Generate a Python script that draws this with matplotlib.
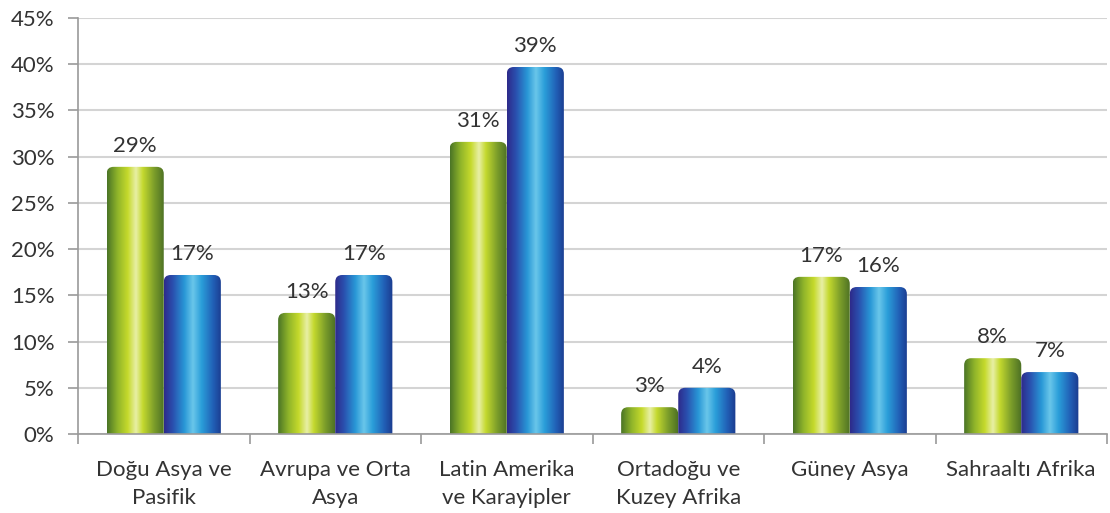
import matplotlib
matplotlib.use("Agg")
import matplotlib.pyplot as plt
import numpy as np
from matplotlib.colors import LinearSegmentedColormap
from matplotlib.patches import FancyBboxPatch
from matplotlib.ticker import FixedLocator, FuncFormatter

categories = ["Doğu Asya ve\nPasifik", "Avrupa ve Orta\nAsya", "Latin Amerika\nve Karayipler",
              "Ortadoğu ve\nKuzey Afrika", "Güney Asya", "Sahraaltı Afrika"]
series_green = [28.9, 13.1, 31.6, 2.9, 17.0, 8.2]
series_blue = [17.2, 17.2, 39.7, 5.0, 15.9, 6.7]
labels_green = ["29%", "13%", "31%", "3%", "17%", "8%"]
labels_blue = ["17%", "17%", "39%", "4%", "16%", "7%"]
yticks = [0, 5, 10, 15, 20, 25, 30, 35, 40, 45]

plt.rcParams['font.family'] = ['Lato', 'DejaVu Sans']

W, H = 1110, 513
fig = plt.figure(figsize=(W / 100, H / 100), dpi=100)
left, right, bottom, top = 78, 1107, 434, 18
ax = fig.add_axes([left / W, 1 - bottom / H, (right - left) / W, (bottom - top) / H])

ax.set_xlim(-0.5, len(categories) - 0.5)
ax.set_ylim(0, 45)

green_cmap = LinearSegmentedColormap.from_list("g", [
    (0.0, "#4a7426"), (0.18, "#8fb42a"), (0.36, "#c6da2c"), (0.5, "#e8efa6"),
    (0.62, "#c4d92e"), (0.82, "#7a9c2a"), (1.0, "#4a6e24")])
blue_cmap = LinearSegmentedColormap.from_list("b", [
    (0.0, "#2e2a8a"), (0.15, "#2a4fae"), (0.35, "#2897d6"), (0.5, "#6ac6ea"),
    (0.65, "#2a9ed9"), (0.85, "#2160b6"), (1.0, "#1b3a8e")])

x = np.arange(len(categories))
bw = 0.333
bars_g = ax.bar(x - bw / 2, series_green, bw, color="none", edgecolor="none")
bars_b = ax.bar(x + bw / 2, series_blue, bw, color="none", edgecolor="none")

px_per_x = (right - left) / len(categories)
px_per_y = (bottom - top) / 45.0
rad_px = 7
aspect = px_per_x / px_per_y
grad = np.linspace(0, 1, 256).reshape(1, -1)

def draw_bars(bars, cmap):
    for b in bars:
        x0, w, h = b.get_x(), b.get_width(), b.get_height()
        pad = rad_px / px_per_x
        patch = FancyBboxPatch((x0, -2), w, h + 2,
                               boxstyle=f"round,pad=0,rounding_size={pad}",
                               mutation_aspect=aspect,
                               facecolor="none", edgecolor="none",
                               transform=ax.transData)
        ax.add_patch(patch)
        im = ax.imshow(grad, cmap=cmap, aspect="auto",
                       extent=(x0, x0 + w, 0, h), zorder=2, interpolation="bilinear")
        im.set_clip_path(patch)

draw_bars(bars_g, green_cmap)
draw_bars(bars_b, blue_cmap)
ax.set_xlim(-0.5, len(categories) - 0.5)
ax.set_ylim(0, 45)
ax.set_aspect("auto")

txt_color = "#333333"
fs = 16
for b, lab in zip(bars_g, labels_green):
    ax.annotate(lab, (b.get_x() + b.get_width() / 2, b.get_height()), xytext=(0, 8),
                textcoords="offset points", ha="center", va="bottom", fontsize=fs, color=txt_color)
for b, lab in zip(bars_b, labels_blue):
    ax.annotate(lab, (b.get_x() + b.get_width() / 2, b.get_height()), xytext=(0, 8),
                textcoords="offset points", ha="center", va="bottom", fontsize=fs, color=txt_color)

ax.set_yticks(yticks)
ax.yaxis.set_major_formatter(FuncFormatter(lambda v, p: f"{int(v)}%"))
ax.grid(axis="y", color="#d4d4d4", linewidth=1.5, zorder=0)
ax.set_axisbelow(True)

ax.set_xticks(x)
ax.set_xticklabels(categories, fontsize=fs, color=txt_color, linespacing=1.5)
ax.xaxis.set_minor_locator(FixedLocator(np.arange(-0.5, len(categories) + 0.5, 1)))
ax.tick_params(axis="x", which="major", length=0, pad=19)
ax.tick_params(axis="x", which="minor", length=7, color="#9a9a9a", width=1.2)
ax.tick_params(axis="y", length=7, color="#9a9a9a", width=1.2, labelsize=fs, labelcolor=txt_color, pad=10)

for s in ["top", "right"]:
    ax.spines[s].set_visible(False)
for s in ["left", "bottom"]:
    ax.spines[s].set_color("#9a9a9a")
    ax.spines[s].set_linewidth(1.2)

fig.savefig("out.png", dpi=100)
